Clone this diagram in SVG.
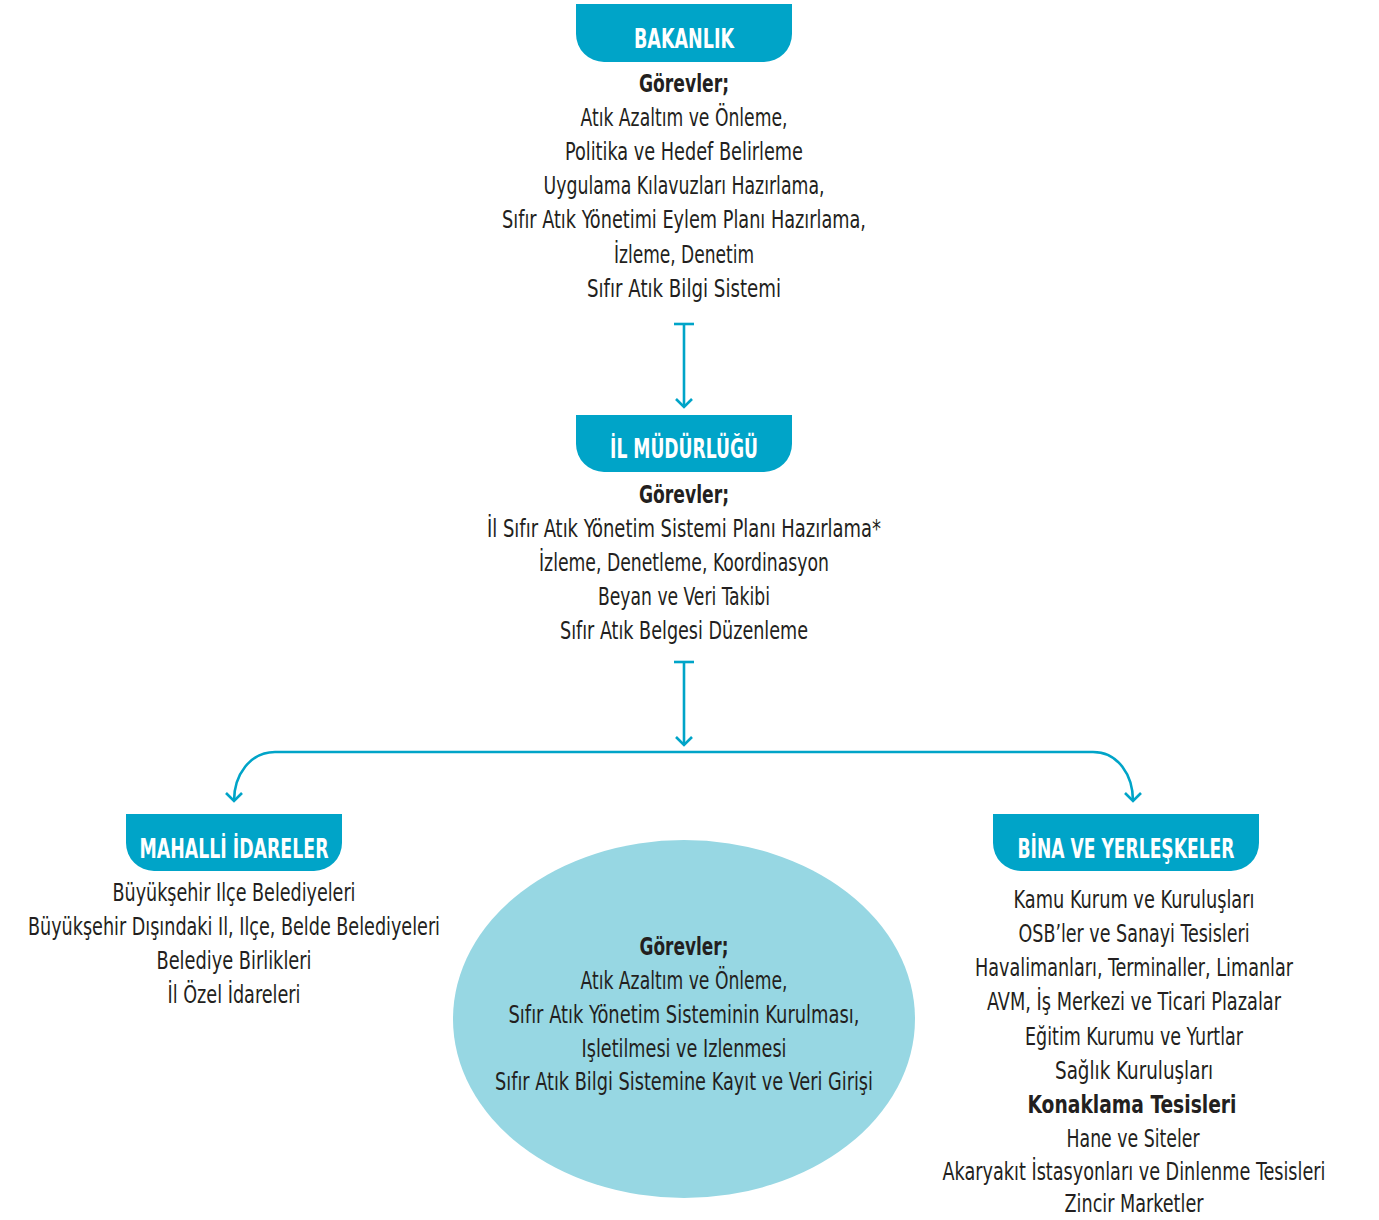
<svg xmlns="http://www.w3.org/2000/svg" width="1379" height="1220" viewBox="0 0 1379 1220">
<style>
.t{font-family:"Liberation Sans Narrow","DejaVu Sans Condensed","Roboto Condensed","Liberation Sans",sans-serif;font-size:25px;fill:#231F20;text-anchor:middle}
.b{font-weight:bold}
.h{font-family:"Liberation Sans Narrow","DejaVu Sans Condensed","Liberation Sans",sans-serif;font-size:27px;font-weight:bold;fill:#FFFFFF;text-anchor:middle}
.hd{fill:#00A4C8}
.c{fill:none;stroke:#00A4C8;stroke-width:2.6;stroke-linecap:butt;stroke-linejoin:miter}
</style>
<defs>
<marker id="ah" viewBox="0 0 20 20" refX="17" refY="10" markerWidth="20" markerHeight="20" markerUnits="userSpaceOnUse" orient="auto">
<path d="M9,2 L17,10 L9,18" fill="none" stroke="#00A4C8" stroke-width="2.6"/>
</marker>
</defs>
<rect width="1379" height="1220" fill="#FFFFFF"/>

<g id="connectors">
<path class="c" d="M674,324 H694"/>
<path class="c" d="M684,324 V407" marker-end="url(#ah)"/>
<path class="c" d="M674,662 H694"/>
<path class="c" d="M684,662 V745" marker-end="url(#ah)"/>
<path class="c" d="M1093,752 H275 C250,752 234,775 234,801" marker-end="url(#ah)"/>
<path class="c" d="M1093,752 C1118,752 1133,775 1133,801" marker-end="url(#ah)"/>
</g>

<g id="bakanlik">
<path class="hd" d="M576,4 H792 V34 A28,28 0 0 1 764,62 H604 A28,28 0 0 1 576,34 Z"/>
<text class="h" x="684" y="48" textLength="100" lengthAdjust="spacingAndGlyphs">BAKANLIK</text>
<text class="t b" x="684" y="91.5" textLength="90" lengthAdjust="spacingAndGlyphs">Görevler;</text>
<text class="t" x="684" y="125.7" textLength="207" lengthAdjust="spacingAndGlyphs">Atık Azaltım ve Önleme,</text>
<text class="t" x="684" y="159.9" textLength="238" lengthAdjust="spacingAndGlyphs">Politika ve Hedef Belirleme</text>
<text class="t" x="684" y="194.1" textLength="281" lengthAdjust="spacingAndGlyphs">Uygulama Kılavuzları Hazırlama,</text>
<text class="t" x="684" y="228.3" textLength="364" lengthAdjust="spacingAndGlyphs">Sıfır Atık Yönetimi Eylem Planı Hazırlama,</text>
<text class="t" x="684" y="262.5" textLength="140" lengthAdjust="spacingAndGlyphs">İzleme, Denetim</text>
<text class="t" x="684" y="296.7" textLength="194" lengthAdjust="spacingAndGlyphs">Sıfır Atık Bilgi Sistemi</text>
</g>

<g id="il-mudurlugu">
<path class="hd" d="M576,415 H792 V444 A28,28 0 0 1 764,472 H604 A28,28 0 0 1 576,444 Z"/>
<text class="h" x="684" y="458" textLength="148" lengthAdjust="spacingAndGlyphs">İL MÜDÜRLÜĞÜ</text>
<text class="t b" x="684" y="502.5" textLength="90" lengthAdjust="spacingAndGlyphs">Görevler;</text>
<text class="t" x="684" y="536.7" textLength="394" lengthAdjust="spacingAndGlyphs">İl Sıfır Atık Yönetim Sistemi Planı Hazırlama*</text>
<text class="t" x="684" y="570.9" textLength="290" lengthAdjust="spacingAndGlyphs">İzleme, Denetleme, Koordinasyon</text>
<text class="t" x="684" y="605.1" textLength="172" lengthAdjust="spacingAndGlyphs">Beyan ve Veri Takibi</text>
<text class="t" x="684" y="639.3" textLength="248" lengthAdjust="spacingAndGlyphs">Sıfır Atık Belgesi Düzenleme</text>
</g>

<g id="mahalli-idareler">
<path class="hd" d="M126,814 H342 V843 A28,28 0 0 1 314,871 H154 A28,28 0 0 1 126,843 Z"/>
<text class="h" x="234" y="858" textLength="189" lengthAdjust="spacingAndGlyphs">MAHALLİ İDARELER</text>
<text class="t" x="234" y="901" textLength="243" lengthAdjust="spacingAndGlyphs">Büyükşehir Ilçe Belediyeleri</text>
<text class="t" x="234" y="935" textLength="412" lengthAdjust="spacingAndGlyphs">Büyükşehir Dışındaki Il, Ilçe, Belde Belediyeleri</text>
<text class="t" x="234" y="969" textLength="155" lengthAdjust="spacingAndGlyphs">Belediye Birlikleri</text>
<text class="t" x="234" y="1003" textLength="133" lengthAdjust="spacingAndGlyphs">İl Özel İdareleri</text>
</g>

<g id="gorevler-ellipse">
<ellipse cx="684" cy="1019" rx="231" ry="179" fill="#97D7E3"/>
<text class="t b" x="684" y="955" textLength="89" lengthAdjust="spacingAndGlyphs">Görevler;</text>
<text class="t" x="684" y="989" textLength="207" lengthAdjust="spacingAndGlyphs">Atık Azaltım ve Önleme,</text>
<text class="t" x="684" y="1023" textLength="351" lengthAdjust="spacingAndGlyphs">Sıfır Atık Yönetim Sisteminin Kurulması,</text>
<text class="t" x="684" y="1057" textLength="205" lengthAdjust="spacingAndGlyphs">Işletilmesi ve Izlenmesi</text>
<text class="t" x="684" y="1090" textLength="378" lengthAdjust="spacingAndGlyphs">Sıfır Atık Bilgi Sistemine Kayıt ve Veri Girişi</text>
</g>

<g id="bina-ve-yerleskeler">
<path class="hd" d="M993,814 H1259 V843 A28,28 0 0 1 1231,871 H1021 A28,28 0 0 1 993,843 Z"/>
<text class="h" x="1126" y="858" textLength="217" lengthAdjust="spacingAndGlyphs">BİNA VE YERLEŞKELER</text>
<text class="t" x="1134" y="908" textLength="241" lengthAdjust="spacingAndGlyphs">Kamu Kurum ve Kuruluşları</text>
<text class="t" x="1134" y="942" textLength="231" lengthAdjust="spacingAndGlyphs">OSB’ler ve Sanayi Tesisleri</text>
<text class="t" x="1134" y="976" textLength="318" lengthAdjust="spacingAndGlyphs">Havalimanları, Terminaller, Limanlar</text>
<text class="t" x="1134" y="1010" textLength="294" lengthAdjust="spacingAndGlyphs">AVM, İş Merkezi ve Ticari Plazalar</text>
<text class="t" x="1134" y="1045" textLength="218" lengthAdjust="spacingAndGlyphs">Eğitim Kurumu ve Yurtlar</text>
<text class="t" x="1134" y="1079" textLength="158" lengthAdjust="spacingAndGlyphs">Sağlık Kuruluşları</text>
<text class="t b" x="1132" y="1113" textLength="209" lengthAdjust="spacingAndGlyphs">Konaklama Tesisleri</text>
<text class="t" x="1133" y="1147" textLength="133" lengthAdjust="spacingAndGlyphs">Hane ve Siteler</text>
<text class="t" x="1134" y="1180" textLength="383" lengthAdjust="spacingAndGlyphs">Akaryakıt İstasyonları ve Dinlenme Tesisleri</text>
<text class="t" x="1134" y="1212" textLength="139" lengthAdjust="spacingAndGlyphs">Zincir Marketler</text>
</g>
</svg>
